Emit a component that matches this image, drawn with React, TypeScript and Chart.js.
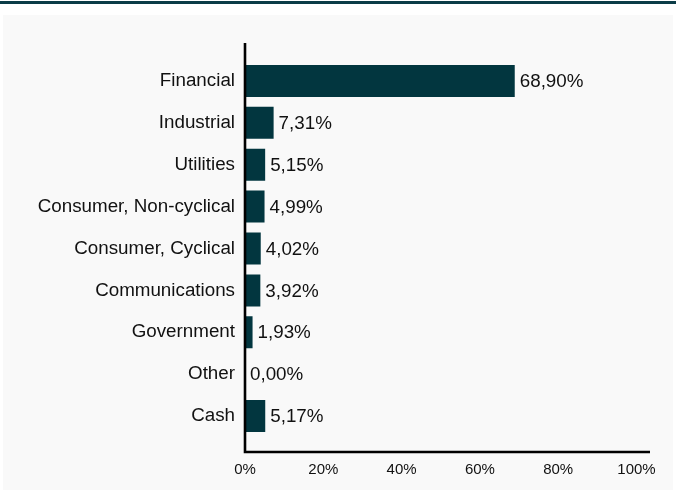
import React, { useEffect, useRef } from "react";
import { Chart, registerables } from "chart.js";

Chart.register(...registerables);

const categories = [
  "Financial",
  "Industrial",
  "Utilities",
  "Consumer, Non-cyclical",
  "Consumer, Cyclical",
  "Communications",
  "Government",
  "Other",
  "Cash",
];
const weights = [68.9, 7.31, 5.15, 4.99, 4.02, 3.92, 1.93, 0.0, 5.17];
const xTicks = [0, 20, 40, 60, 80, 100];

const BAR_COLOR = "#02363f";
const FONT = "'Liberation Sans', Arial, sans-serif";

const axisLinesPlugin = {
  id: "axisLines",
  afterDraw(chart: any) {
    const { ctx, chartArea, scales } = chart;
    const x0 = scales.x.getPixelForValue(0);
    const yBottom = chartArea.bottom + 15;
    ctx.save();
    ctx.strokeStyle = "#000";
    ctx.lineWidth = 2.6;
    ctx.beginPath();
    ctx.moveTo(x0, chartArea.top - 17);
    ctx.lineTo(x0, yBottom);
    ctx.lineTo(chartArea.right + 13.5, yBottom);
    ctx.stroke();
    ctx.restore();
  },
};

const valueLabelPlugin = {
  id: "valueLabels",
  afterDatasetsDraw(chart: any) {
    const { ctx } = chart;
    const meta = chart.getDatasetMeta(0);
    const data = chart.data.datasets[0].data as number[];
    ctx.save();
    ctx.font = `18.8px ${FONT}`;
    ctx.fillStyle = "#111";
    ctx.textAlign = "left";
    ctx.textBaseline = "middle";
    meta.data.forEach((el: any, i: number) => {
      const v = data[i];
      const txt = v.toFixed(2).replace(".", ",") + "%";
      ctx.fillText(txt, el.x + 5, el.y + 1);
    });
    ctx.restore();
  },
};

export default function App() {
  const ref = useRef<HTMLCanvasElement | null>(null);

  useEffect(() => {
    if (!ref.current) return;
    const chart = new Chart(ref.current, {
      type: "bar",
      data: {
        labels: categories,
        datasets: [
          {
            data: weights,
            backgroundColor: BAR_COLOR,
            borderWidth: 0,
            barPercentage: 0.764,
            categoryPercentage: 1,
          },
        ],
      },
      options: {
        indexAxis: "y",
        animation: false,
        responsive: false,
        maintainAspectRatio: false,
        layout: { autoPadding: false, padding: { top: 60, right: 39.5, bottom: 0, left: 0 } },
        plugins: {
          legend: { display: false },
          tooltip: { enabled: false },
        },
        scales: {
          x: {
            type: "linear",
            min: 0,
            max: 100,
            afterBuildTicks(scale: any) {
              scale.ticks = xTicks.map((v) => ({ value: v }));
            },
            afterFit(scale: any) {
              scale.height = 53;
              scale.paddingLeft = 0;
              scale.paddingRight = 0;
            },
            grid: { display: false, drawTicks: false },
            border: { display: false },
            ticks: {
              padding: 24,
              color: "#111",
              font: { size: 15, family: FONT },
              callback: (v: any) => `${v}%`,
              maxRotation: 0,
            },
          },
          y: {
            type: "category",
            offset: true,
            afterFit(scale: any) {
              scale.width = 245;
              scale.paddingTop = 0;
              scale.paddingBottom = 0;
            },
            grid: { display: false, drawTicks: false },
            border: { display: false },
            ticks: {
              padding: 10,
              color: "#111",
              font: { size: 18.8, family: FONT },
              autoSkip: false,
            },
          },
        },
      },
      plugins: [axisLinesPlugin, valueLabelPlugin],
    });
    return () => chart.destroy();
  }, []);

  return (
    <div
      style={{
        position: "absolute",
        left: 0,
        top: 0,
        width: 676,
        height: 490,
        background: "#ffffff",
        overflow: "hidden",
      }}
    >
      <div
        style={{
          position: "absolute",
          left: 0,
          top: 1,
          width: 676,
          height: 3,
          background: "#0b3c47",
        }}
      />
      <div
        style={{
          position: "absolute",
          left: 3,
          top: 15,
          width: 670,
          height: 475,
          background: "#f9f9f9",
        }}
      />
      <canvas
        ref={ref}
        width={676}
        height={490}
        style={{ position: "absolute", left: 0, top: 0, width: 676, height: 490 }}
      />
    </div>
  );
}
